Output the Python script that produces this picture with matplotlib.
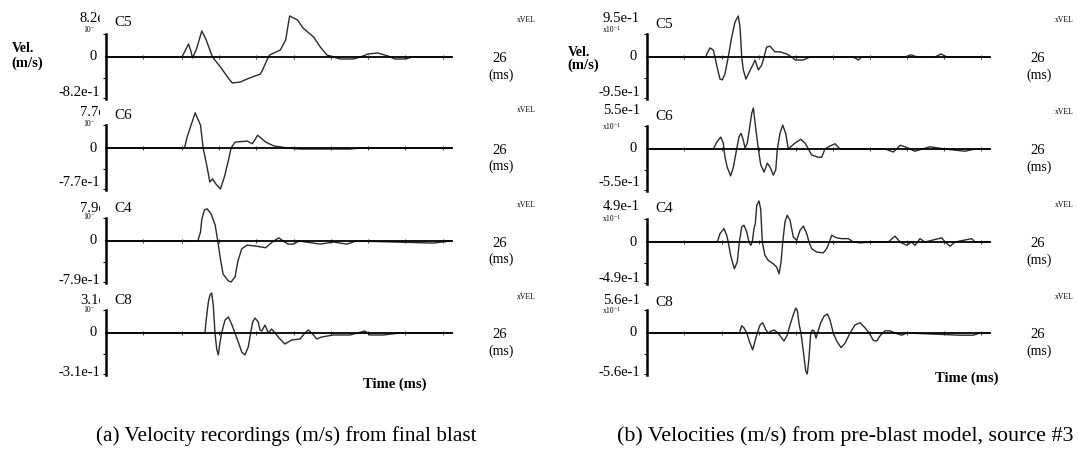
import matplotlib
matplotlib.use("Agg")
import matplotlib.pyplot as plt
from matplotlib.transforms import Bbox

plt.rcParams['font.family'] = ['Liberation Serif', 'DejaVu Serif']

# ---------------- data (time in ms, velocity in m/s) ----------------
T_END = 26.0
time_ticks = [2.8, 5.7, 8.5, 11.3, 14.1, 16.9, 19.7, 22.5, 25.3]
stations = ['C5', 'C6', 'C4', 'C8']

amp_a = [0.82, 0.77, 0.79, 0.31]
amp_b = [0.95, 0.55, 0.49, 0.56]
top_a = ['8.2e-1', '7.7e-1', '7.9e-1', '3.1e-1']
bot_a = ['-8.2e-1', '-7.7e-1', '-7.9e-1', '-3.1e-1']
top_b = ['9.5e-1', '5.5e-1', '4.9e-1', '5.6e-1']
bot_b = ['-9.5e-1', '-5.5e-1', '-4.9e-1', '-5.6e-1']

# (a) final blast recordings
t_c5_a = [0, 5.7, 5.9, 6.2, 6.4, 6.5, 6.8, 7.2, 7.5, 8.0, 8.6, 9.3, 9.5, 10.1, 10.6, 11.6, 11.8, 12.2, 12.3, 13.1,
          13.5, 13.8, 14.4, 14.8, 15.6, 16.1, 16.6, 17.1, 17.6, 18.6, 19.1, 19.7, 20.4, 21.2, 21.7, 22.5, 23.0, 26]
v_c5_a = [0, 0, 0.10, 0.26, 0.10, -0.02, 0.16, 0.52, 0.36, 0, -0.20, -0.46, -0.52, -0.50, -0.44, -0.34, -0.24, 0, 0.04, 0.14,
          0.34, 0.82, 0.74, 0.58, 0.40, 0.20, 0.04, 0, -0.04, -0.04, 0, 0.06, 0.08, 0.02, -0.04, -0.04, 0, 0]

t_c6_a = [0, 5.9, 6.1, 6.7, 7.1, 7.3, 7.6, 7.8, 8.0, 8.3, 8.6, 8.9, 9.2, 9.4, 9.7, 10.6, 11.0, 11.4, 12.0, 12.6,
          13.6, 14.6, 18.3, 19.1, 26]
v_c6_a = [0, 0, 0.21, 0.66, 0.43, 0, -0.36, -0.64, -0.58, -0.69, -0.77, -0.54, -0.23, 0, 0.11, 0.13, 0.08, 0.24, 0.11, 0.04,
          0, -0.02, -0.02, 0, 0]

t_c4_a = [0, 6.9, 7.1, 7.2, 7.4, 7.6, 7.9, 8.2, 8.4, 8.6, 8.8, 9.2, 9.4, 9.7, 9.9, 10.2, 10.6, 11.3, 12.0, 12.3,
          12.6, 13.0, 13.3, 13.7, 14.1, 14.5, 16.1, 17.1, 18.1, 18.8, 24.6, 25.9, 26]
v_c4_a = [0, 0, 0.17, 0.42, 0.60, 0.62, 0.52, 0.31, 0, -0.35, -0.64, -0.77, -0.79, -0.69, -0.40, -0.15, -0.08, -0.10, -0.13, -0.06,
          0, 0.06, 0, -0.06, -0.06, 0, -0.06, -0.02, -0.06, 0, -0.04, 0, 0]

t_c8_a = [0, 7.44, 7.51, 7.69, 7.81, 7.94, 8.06, 8.19, 8.32, 8.44, 8.57, 8.69, 8.94, 9.19, 9.44, 9.69, 9.94, 10.20, 10.44, 10.69,
          10.87, 11.02, 11.20, 11.44, 11.57, 11.70, 11.95, 12.20, 12.45, 12.70, 13.07, 13.45, 13.95, 14.58, 14.95, 15.20, 15.46,
          15.83, 16.21, 17.08, 18.33, 19.46, 19.84, 20.84, 22.09, 26]
v_c8_a = [0, 0, 0.083, 0.234, 0.287, 0.302, 0.212, 0, -0.121, -0.166, -0.068, 0, 0.098, 0.121, 0.068, 0, -0.068, -0.144, -0.166, -0.106,
          0, 0.083, 0.113, 0.083, 0.023, 0.015, 0.060, 0, 0.030, 0, -0.045, -0.083, -0.053, -0.045, 0, 0.023, 0,
          -0.045, -0.030, -0.015, -0.015, 0.015, -0.015, -0.015, 0, 0]

# (b) pre-blast model, source #3
t_c5_b = [0, 4.47, 4.53, 4.78, 5.03, 5.15, 5.28, 5.53, 5.71, 5.91, 6.16, 6.42, 6.67, 6.92, 7.05, 7.18, 7.30, 7.50, 7.75, 8.01,
          8.19, 8.44, 8.69, 8.87, 9.07, 9.32, 9.70, 10.08, 10.59, 10.97, 11.22, 11.85, 12.36, 15.64, 16.02, 16.27, 19.56, 20.01,
          20.47, 21.83, 22.29, 22.74, 26]
v_c5_b = [0, 0, 0.07, 0.21, 0.16, 0, -0.19, -0.51, -0.53, -0.39, 0, 0.46, 0.81, 0.95, 0.70, 0, -0.30, -0.51, -0.35, -0.19,
          -0.07, -0.30, -0.19, 0, 0.23, 0.25, 0.12, 0.12, 0.07, 0, -0.07, -0.07, 0, 0, -0.07, 0, 0, 0.05,
          0, 0, 0.07, 0, 0]

t_c6_b = [0, 5.03, 5.28, 5.59, 5.78, 5.91, 6.09, 6.34, 6.54, 6.80, 6.97, 7.13, 7.30, 7.43, 7.60, 7.75, 7.94, 8.06, 8.26, 8.44,
          8.62, 8.87, 9.12, 9.32, 9.57, 9.76, 9.88, 10.08, 10.29, 10.51, 10.71, 11.22, 11.65, 11.98, 12.23, 12.48, 12.98, 13.24,
          13.49, 13.87, 14.25, 14.63, 18.04, 18.67, 18.93, 19.18, 19.56, 20.31, 21.45, 22.59, 24.10, 24.86, 26]
v_c6_b = [0, 0, 0.09, 0.16, 0.08, -0.11, -0.25, -0.36, -0.25, 0, 0.16, 0.21, 0.12, 0.01, 0.08, 0.25, 0.48, 0.55, 0.25, 0,
          -0.21, -0.31, -0.19, -0.24, -0.35, -0.28, 0, 0.21, 0.32, 0.21, 0, 0.08, 0.13, 0.08, 0, -0.08, -0.11, -0.11,
          0, 0.04, 0.07, 0, 0, -0.04, 0, 0.05, 0.03, -0.03, 0.03, 0, -0.03, 0, 0]

t_c4_b = [0, 5.33, 5.53, 5.84, 6.04, 6.16, 6.34, 6.62, 6.84, 7.00, 7.18, 7.35, 7.56, 7.73, 7.86, 7.98, 8.11, 8.21, 8.32, 8.49,
          8.62, 8.74, 8.94, 9.19, 9.57, 9.83, 10.01, 10.16, 10.29, 10.46, 10.63, 10.84, 11.09, 11.35, 11.60, 11.85, 12.11, 12.28,
          12.48, 12.86, 13.36, 13.62, 13.82, 14.00, 14.38, 14.76, 15.26, 15.64, 16.15, 17.15, 18.29, 18.80, 19.18, 19.69, 20.06,
          20.31, 20.69, 21.07, 22.34, 22.59, 22.97, 23.35, 24.61, 24.86, 26]
v_c4_b = [0, 0, 0.10, 0.16, 0.08, 0, -0.16, -0.32, -0.24, 0, 0.18, 0.20, 0.12, 0, -0.04, 0, 0.16, 0.22, 0.44, 0.49,
          0.39, 0, -0.16, -0.22, -0.26, -0.30, -0.38, -0.24, 0, 0.24, 0.32, 0.26, 0.06, 0.02, 0.14, 0.19, 0.10, 0,
          -0.08, -0.12, -0.13, -0.08, 0, 0.08, 0.05, 0.04, 0.04, 0, -0.01, 0, 0, 0.07, 0, -0.04, 0,
          -0.04, 0.04, 0, 0.05, 0, -0.05, 0, 0.04, 0, 0]

t_c8_b = [0, 7.00, 7.18, 7.35, 7.56, 7.75, 8.01, 8.19, 8.36, 8.57, 8.77, 9.02, 9.19, 9.45, 9.65, 9.93, 10.38, 10.63, 10.84, 11.09,
          11.27, 11.39, 11.54, 11.67, 11.85, 12.03, 12.15, 12.28, 12.41, 12.53, 12.66, 12.81, 12.98, 13.17, 13.42, 13.67, 13.87,
          14.12, 14.38, 14.71, 15.01, 15.39, 15.77, 16.15, 16.53, 16.85, 17.15, 17.41, 17.66, 18.04, 18.42, 18.80, 19.31, 19.69,
          23.73, 24.73, 25.24, 26]
v_c8_b = [0, 0, 0.10, 0.07, 0, -0.11, -0.23, -0.11, 0, 0.11, 0.14, 0.04, 0, 0.03, 0.04, 0, -0.11, -0.03, 0.11, 0.25,
          0.34, 0.31, 0.11, 0, -0.25, -0.52, -0.56, -0.34, 0, 0.04, 0.03, -0.07, 0.03, 0.14, 0.23, 0.26, 0.18,
          0, -0.11, -0.20, -0.14, 0, 0.11, 0.14, 0.07, 0, -0.10, -0.11, -0.04, 0.03, 0.03, 0, -0.03, 0,
          -0.03, -0.03, 0, 0]

traces_a = [(t_c5_a, v_c5_a), (t_c6_a, v_c6_a), (t_c4_a, v_c4_a), (t_c8_a, v_c8_a)]
traces_b = [(t_c5_b, v_c5_b), (t_c6_b, v_c6_b), (t_c4_b, v_c4_b), (t_c8_b, v_c8_b)]

caption_a = "(a) Velocity recordings (m/s) from final blast"
caption_b = "(b) Velocities (m/s) from pre-blast model, source #3"

# ---------------- layout (pixels) ----------------
W, H = 1079, 454
fig = plt.figure(figsize=(W / 100, H / 100), dpi=100)
HP = 46      # half height of each trace axes (px)
PXA = 41     # pixels for the full-scale amplitude
VAL_FS = 10.5


def ftext(x, y, s, **kw):
    return fig.text(x / W, 1 - y / H, s, **kw)


def panel(x0, x1, zeros, amps, traces, tops, bots, station_y, top_y, sub_y, bot_y, vel_y,
          lab_right, top_left, clip_x, sub_x, sub_txt, ms_x, xvel_x, xvel_y, time_xy,
          caption, cap_xy, cap_ha, cap_fs):
    for i in range(4):
        zy, A = zeros[i], amps[i]
        t, v = traces[i]
        ax = fig.add_axes([x0 / W, 1 - (zy + HP) / H, (x1 - x0) / W, 2 * HP / H])
        lim = A * HP / PXA
        ax.set_xlim(0, T_END)
        ax.set_ylim(-lim, lim)
        ax.patch.set_visible(False)
        ax.plot(t, v, color='#2a2a2a', lw=1.0, solid_joinstyle='round', clip_on=False)
        for s in ('top', 'right'):
            ax.spines[s].set_visible(False)
        ax.spines['bottom'].set_position(('data', 0))
        ax.spines['bottom'].set_bounds(0, T_END)
        ax.spines['bottom'].set_linewidth(1.3)
        ax.spines['left'].set_bounds(-A * 1.03, A * 0.56)
        ax.spines['left'].set_linewidth(1.8)
        ax.set_xticks(time_ticks)
        ax.set_xticklabels([])
        ax.tick_params(axis='x', direction='inout', length=3, width=0.8, color='#444')
        ax.set_yticks([-A * 1.0, -A * 0.5, A * 0.55])
        ax.set_yticklabels([])
        ax.tick_params(axis='y', direction='out', length=2.5, width=0.8)

        # value labels (the top one is truncated in panel (a), as in the original)
        if top_left:
            tt = ftext(top_left, top_y[i], tops[i], ha='left', va='center', fontsize=VAL_FS)
            tt.set_clip_box(Bbox.from_extents(0, 0, clip_x, H))
            tt.set_clip_on(True)
        else:
            ftext(lab_right, top_y[i], tops[i], ha='right', va='center', fontsize=VAL_FS)
        ftext(sub_x, sub_y[i], sub_txt, ha='center', va='center', fontsize=5.5)
        ftext(lab_right - 3, zy, '0', ha='right', va='center', fontsize=VAL_FS)
        ftext(lab_right, bot_y[i], bots[i], ha='right', va='center', fontsize=VAL_FS)
        ftext(x0 + 8, station_y[i], stations[i], ha='left', va='center', fontsize=11)
        ftext(ms_x, zy + 2, '26', ha='left', va='center', fontsize=10.5)
        ftext(ms_x - 4, zy + 18, '(ms)', ha='left', va='center', fontsize=10)
        ftext(xvel_x, xvel_y[i], 'xVEL', ha='left', va='center', fontsize=5.5)

    ftext(vel_y[0], vel_y[1], 'Vel.', ha='left', va='center', fontsize=10, fontweight='bold')
    ftext(vel_y[0] - 1, vel_y[2], '(m/s)', ha='left', va='center', fontsize=10.5, fontweight='bold')
    ftext(time_xy[0], time_xy[1], 'Time (ms)', ha='center', va='center', fontsize=10.5, fontweight='bold')
    ftext(cap_xy[0], cap_xy[1], caption, ha=cap_ha, va='center', fontsize=cap_fs)


panel(106, 452, [57, 148, 241, 333], amp_a, traces_a, top_a, bot_a,
      station_y=[22, 115, 208, 301], top_y=[19, 113, 208, 300], sub_y=[30, 124, 217, 310],
      bot_y=[92, 183, 280, 373], vel_y=(12, 48, 63), lab_right=100, top_left=80, clip_x=100,
      sub_x=89, sub_txt='10\u207b', ms_x=492, xvel_x=517, xvel_y=[20, 110, 205, 297],
      time_xy=(395, 384), caption=caption_a, cap_xy=(286, 436), cap_ha='center', cap_fs=15.3)

panel(647, 990, [57, 149, 242, 333], amp_b, traces_b, top_b, bot_b,
      station_y=[24, 117, 208, 302], top_y=[19, 111, 206, 300], sub_y=[30, 127, 219, 311],
      bot_y=[92, 183, 278, 373], vel_y=(568, 53, 65), lab_right=640, top_left=None, clip_x=None,
      sub_x=612, sub_txt='x10\u207b\u00b9', ms_x=1030, xvel_x=1055, xvel_y=[20, 112, 205, 297],
      time_xy=(967, 378), caption=caption_b, cap_xy=(617, 436), cap_ha='left', cap_fs=15.8)

fig.savefig('out.png', dpi=100)
